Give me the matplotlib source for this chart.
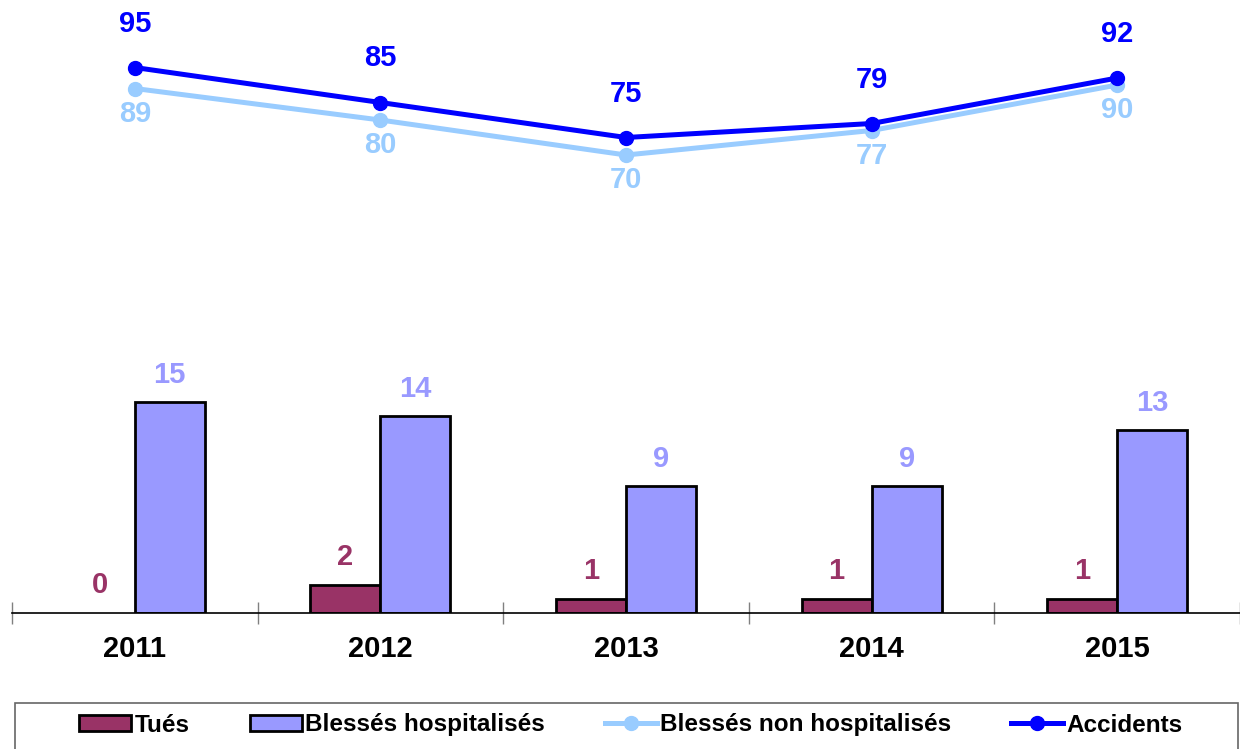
import numpy as np
import matplotlib.pyplot as plt
from matplotlib.patches import Patch, Rectangle
from matplotlib.lines import Line2D

plt.rcParams['font.family'] = ['Liberation Sans', 'DejaVu Sans']
plt.rcParams['font.weight'] = 'bold'

# donnees
annees = ['2011', '2012', '2013', '2014', '2015']
tues = [0, 2, 1, 1, 1]
blesses_hosp = [15, 14, 9, 9, 13]
blesses_non_hosp = [89, 80, 70, 77, 90]
accidents = [95, 85, 75, 79, 92]

c_tues = '#993366'
c_hosp = '#9999FF'
c_nonhosp = '#99CCFF'
c_acc = '#0000FF'

W, H = 1240, 749
fig = plt.figure(figsize=(W / 100, H / 100), dpi=100)
# zone de trace en pixels : x 12..1240, y 20..613
ax = fig.add_axes([12 / W, (H - 613) / H, (1240 - 12) / W, (613 - 20) / H])
x = np.arange(len(annees))
bw = 0.285
fs = 21

bars_t = ax.bar(x - bw / 2, tues, bw, color=c_tues, edgecolor='black', linewidth=2, zorder=2)
for b, v in zip(bars_t, tues):
    if v == 0:
        b.set_visible(False)
ax.bar(x + bw / 2, blesses_hosp, bw, color=c_hosp, edgecolor='black', linewidth=2, zorder=2)
ax.set_xlim(-0.5, len(annees) - 0.5)
ax.set_ylim(0, 593 / 14.07)

for i in range(len(annees)):
    ax.annotate(str(tues[i]), (x[i] - bw / 2, tues[i]), xytext=(0, 28), textcoords='offset pixels',
                ha='center', va='center', color=c_tues, fontsize=fs, fontweight='bold')
    ax.annotate(str(blesses_hosp[i]), (x[i] + bw / 2, blesses_hosp[i]), xytext=(0, 27),
                textcoords='offset pixels', ha='center', va='center', color=c_hosp,
                fontsize=fs, fontweight='bold')

for s in ['top', 'left', 'right']:
    ax.spines[s].set_visible(False)
ax.spines['bottom'].set_linewidth(1.2)
ax.set_yticks([])
ax.set_xticks(x)
ax.set_xticklabels(annees, fontsize=fs, fontweight='bold')
ax.tick_params(axis='x', which='major', length=0, pad=16)
ax.set_xticks(np.arange(-0.5, len(annees)), minor=True)
ax.tick_params(axis='x', which='minor', direction='inout', length=16, color='#808080', width=1)

# courbes sur axe secondaire
ax2 = ax.twinx()
ax2.set_ylim(-(613 - 400) / 3.5, (400 - 20) / 3.5)
ax2.axis('off')
ax2.plot(x, blesses_non_hosp, color=c_nonhosp, lw=3.6, marker='o', markersize=10, zorder=3)
ax2.plot(x, accidents, color=c_acc, lw=3.6, marker='o', markersize=10, zorder=4)
for i in range(len(annees)):
    ax2.annotate(str(accidents[i]), (x[i], accidents[i]), xytext=(0, 44), textcoords='offset pixels',
                 ha='center', va='center', color=c_acc, fontsize=fs, fontweight='bold')
    ax2.annotate(str(blesses_non_hosp[i]), (x[i], blesses_non_hosp[i]), xytext=(0, -25),
                 textcoords='offset pixels', ha='center', va='center', color=c_nonhosp,
                 fontsize=fs, fontweight='bold')

# cadre de la legende
fig.patches.append(Rectangle((15 / W, -0.01), (1238 - 15) / W, (749 - 703) / H + 0.01,
                             transform=fig.transFigure, fill=False, edgecolor='#666666',
                             linewidth=1.2))

handles = [
    Patch(facecolor=c_tues, edgecolor='black', linewidth=2),
    Patch(facecolor=c_hosp, edgecolor='black', linewidth=2),
    Line2D([], [], color=c_nonhosp, lw=3.6, marker='o', markersize=10),
    Line2D([], [], color=c_acc, lw=3.6, marker='o', markersize=10),
]
labels = ['Tués', 'Blessés hospitalisés', 'Blessés non hospitalisés', 'Accidents']
leg = fig.legend(handles, labels, loc='center', ncol=4, bbox_to_anchor=(631 / W, (749 - 725) / H),
                 prop={'size': 17.5, 'weight': 'bold'}, frameon=False,
                 handlelength=2.14, handleheight=0.6, handletextpad=0.15, columnspacing=2.45,
                 borderaxespad=0, borderpad=0)

fig.savefig('out.png', dpi=100)
